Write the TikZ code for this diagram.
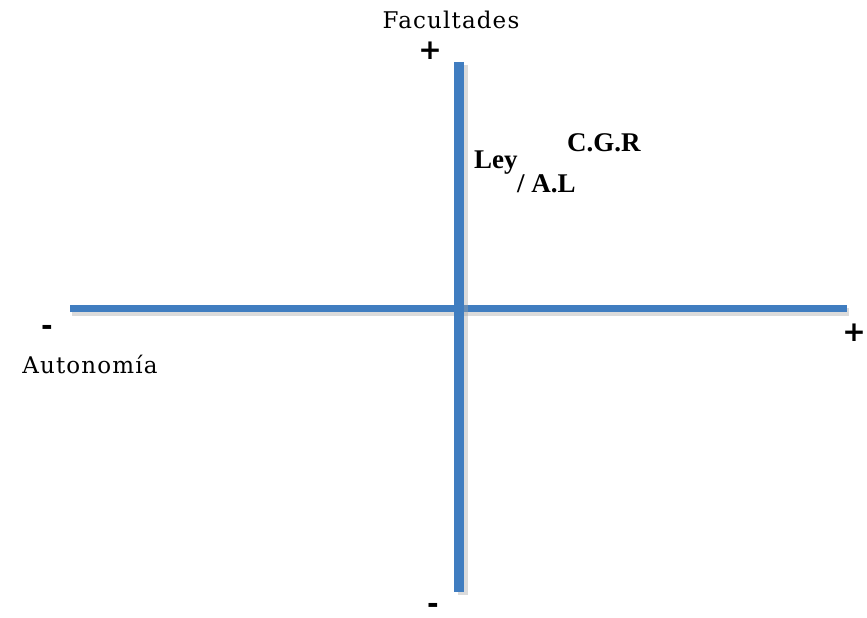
\documentclass[tikz,border=0pt]{standalone}
\usepackage{fontspec}
\setmainfont{Liberation Serif}
\newfontfamily\labfont[LetterSpace=5]{DejaVu Serif}
\newfontfamily\signfont{DejaVu Sans}
\definecolor{axisblue}{RGB}{64,125,192}
\tikzset{
  axisline/.style={draw=axisblue, line cap=butt},
  shadowline/.style={draw=black!35, opacity=0.4, line cap=butt},
  axislabel/.style={font=\labfont\fontsize{23}{26}\selectfont, inner sep=0pt},
  signlabel/.style={font=\signfont\bfseries\fontsize{28}{30}\selectfont, inner sep=0pt},
  minuslabel/.style={signlabel, text height=0.45em, text depth=0pt, anchor=south},
  boldlabel/.style={font=\bfseries\fontsize{27}{30}\selectfont, inner sep=0pt, anchor=base west}
}
\begin{document}
\begin{tikzpicture}[x=1pt,y=-1pt]
\useasboundingbox[fill=white] (0,0) rectangle (867,618);
% coordinates of axis ends
\coordinate (hl) at (70,308);
\coordinate (hr) at (847,308);
\coordinate (vt) at (459,62);
\coordinate (vb) at (459,592);
% shadows
\draw[shadowline, line width=8pt] ([shift={(2,4)}]hl) -- ([shift={(2,4)}]hr);
\draw[axisline, line width=7pt] (hl) -- (hr);
\draw[shadowline, line width=10pt] ([shift={(4,3)}]vt) -- ([shift={(4,3)}]vb);
\draw[axisline, line width=10pt] (vt) -- (vb);
% labels
\node[axislabel] (fac) at (451,20) {Facultades};
\node[axislabel] (aut) at (90,364) {Autonomía};
\node[signlabel] (ptop) at (430,51) {+};
\node[minuslabel] (mleft) at (47,336) {-};
\node[signlabel] (pright) at (854,333) {+};
\node[minuslabel] (mbot) at (433,614) {-};
\node[boldlabel] (cgr) at (567,151) {C.G.R};
\node[boldlabel] (ley) at (474,168) {Ley};
\node[boldlabel] (al) at (517,192) {/ A.L};
\end{tikzpicture}
\end{document}
